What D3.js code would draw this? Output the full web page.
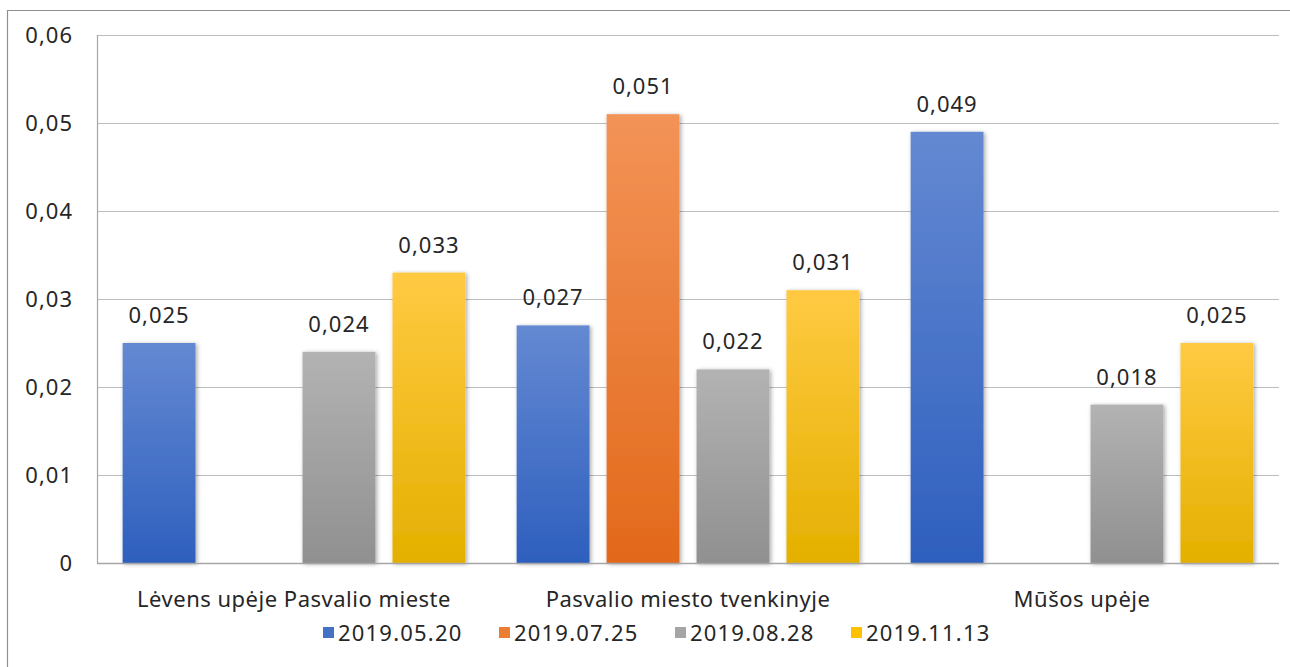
<!DOCTYPE html>
<html>
<head>
<meta charset="utf-8">
<script src="https://cdn.jsdelivr.net/npm/d3@7"></script>
<style>
  html, body { margin: 0; padding: 0; background: #fff; }
  text { font-family: "Noto Sans", "Open Sans", sans-serif; fill: #262626; font-size: 22px; }
</style>
</head>
<body>
<div id="chart"></div>
<script>
// data
var categories = ["Lėvens upėje Pasvalio mieste", "Pasvalio miesto tvenkinyje", "Mūšos upėje"];
var seriesNames = ["2019.05.20", "2019.07.25", "2019.08.28", "2019.11.13"];
var s0520 = [0.025, 0.027, 0.049];
var s0725 = [null, 0.051, null];
var s0828 = [0.024, 0.022, 0.018];
var s1113 = [0.033, 0.031, 0.025];
var yTicks = [0, 0.01, 0.02, 0.03, 0.04, 0.05, 0.06];

// colours: [top of bar, bottom of bar]
var colors = [["#6489d2", "#2e5fbe"], ["#f39357", "#e2691b"], ["#b3b3b3", "#909090"], ["#ffca42", "#e4b000"]];
var legendColors = ["#4472c4", "#ed7d31", "#a5a5a5", "#ffc000"];

var width = 1290, height = 667;
var margin = {left: 97, top: 35, right: 11, bottom: 104};

var values = [s0520, s0725, s0828, s1113];
var rows = [];
categories.forEach(function(c, ci) {
    seriesNames.forEach(function(s, si) {
        if (values[si][ci] != null) rows.push({cat: c, series: si, value: values[si][ci]});
    });
});

var svg = d3.select("#chart").append("svg")
    .attr("width", width).attr("height", height);

var defs = svg.append("defs");
colors.forEach(function(c, i) {
    var g = defs.append("linearGradient").attr("id", "grad" + i)
        .attr("x1", 0).attr("y1", 0).attr("x2", 0).attr("y2", 1);
    g.append("stop").attr("offset", "0%").attr("stop-color", c[0]);
    g.append("stop").attr("offset", "100%").attr("stop-color", c[1]);
});
var f = defs.append("filter").attr("id", "shadow")
    .attr("x", "-20%").attr("y", "-10%").attr("width", "140%").attr("height", "120%");
f.append("feDropShadow").attr("dx", 1.5).attr("dy", 1).attr("stdDeviation", 2)
    .attr("flood-color", "#000").attr("flood-opacity", 0.35);

// outer frame (only top and left visible)
svg.append("line").attr("x1", 7).attr("x2", width).attr("y1", 10.5).attr("y2", 10.5)
    .attr("stroke", "#8f8f8f").attr("stroke-width", 1.2);
svg.append("line").attr("x1", 7.5).attr("x2", 7.5).attr("y1", 10).attr("y2", height)
    .attr("stroke", "#8f8f8f").attr("stroke-width", 1.2);

var x0 = d3.scaleBand().domain(categories)
    .range([margin.left, width - margin.right]);
var x1 = d3.scaleBand().domain(d3.range(seriesNames.length))
    .range([0, x0.bandwidth()]).paddingInner(0.19).paddingOuter(0.285);
var y = d3.scaleLinear().domain([0, 0.06])
    .range([height - margin.bottom, margin.top]);

var fmt = function(v) { return String(v).replace(".", ","); };

// gridlines
svg.append("g").selectAll("line").data(yTicks.slice(1)).enter().append("line")
    .attr("x1", margin.left).attr("x2", width - margin.right)
    .attr("y1", function(d) { return Math.round(y(d)) + 0.5; })
    .attr("y2", function(d) { return Math.round(y(d)) + 0.5; })
    .attr("stroke", "#bdbdbd").attr("stroke-width", 1.2);

// y tick labels
svg.append("g").selectAll("text").data(yTicks).enter().append("text")
    .attr("x", 73).attr("y", function(d) { return y(d); }).attr("dy", "0.36em")
    .attr("text-anchor", "end").style("letter-spacing", "1px")
    .text(function(d) { return d === 0 ? "0" : d3.format(".2f")(d).replace(".", ","); });

// bars
svg.append("g").selectAll("rect").data(rows).enter().append("rect")
    .attr("x", function(d) { return x0(d.cat) + x1(d.series); })
    .attr("y", function(d) { return y(d.value); })
    .attr("width", x1.bandwidth())
    .attr("height", function(d) { return y(0) - y(d.value); })
    .attr("fill", function(d) { return "url(#grad" + d.series + ")"; })
    .attr("filter", "url(#shadow)");

// value labels
svg.append("g").selectAll("text").data(rows).enter().append("text")
    .attr("x", function(d) { return x0(d.cat) + x1(d.series) + x1.bandwidth() / 2; })
    .attr("y", function(d) { return y(d.value) - 20; })
    .attr("text-anchor", "middle").style("letter-spacing", "1px")
    .text(function(d) { return fmt(d.value); });

// left axis and baseline
svg.append("line").attr("x1", margin.left + 0.5).attr("x2", margin.left + 0.5)
    .attr("y1", margin.top).attr("y2", y(0))
    .attr("stroke", "#a6a6a6").attr("stroke-width", 1.2);
svg.append("line").attr("x1", margin.left).attr("x2", width - margin.right)
    .attr("y1", Math.round(y(0)) + 0.5).attr("y2", Math.round(y(0)) + 0.5)
    .attr("stroke", "#a6a6a6").attr("stroke-width", 1.5);

// category labels
svg.append("g").selectAll("text").data(categories).enter().append("text")
    .attr("x", function(d) { return x0(d) + x0.bandwidth() / 2; })
    .attr("y", 607).attr("text-anchor", "middle").style("letter-spacing", "0.5px")
    .text(function(d) { return d; });

// legend
var legend = svg.append("g").selectAll("g").data(seriesNames).enter().append("g")
    .attr("transform", function(d, i) { return "translate(" + (323 + i * 176) + ",627)"; });
legend.append("rect").attr("width", 11).attr("height", 11)
    .attr("fill", function(d, i) { return legendColors[i]; });
legend.append("text").attr("x", 15).attr("y", 6).attr("dy", "0.36em")
    .style("letter-spacing", "1.2px").text(function(d) { return d; });
</script>
</body>
</html>
